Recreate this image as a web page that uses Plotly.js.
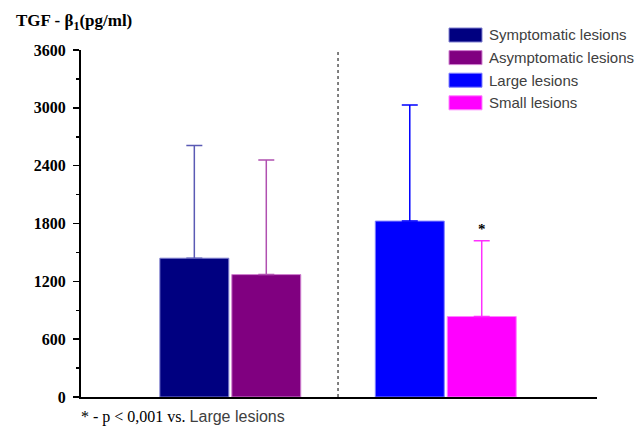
<!DOCTYPE html>
<html>
<head>
<meta charset="utf-8">
<script src="https://cdn.plot.ly/plotly-3.0.1.min.js"></script>
<style>html,body{margin:0;padding:0;background:#fff;}#chart{width:642px;height:426px;}</style>
</head>
<body>
<div id="chart"></div>
<script>
// ---- data ----
var groups = ["Clinical", "Size"];
var seriesNames = ["Symptomatic lesions", "Asymptomatic lesions", "Large lesions", "Small lesions"];
var seriesGroup = ["Clinical", "Clinical", "Size", "Size"];
var meanValues = [1440, 1270, 1825, 835];
var upperErrors = [1170, 1190, 1205, 785];
var yTickValues = [0, 600, 1200, 1800, 2400, 3000, 3600];
var starValue = 1745;

// ---- styles ----
var barColors = ["#000080", "#800080", "#0000ff", "#ff00ff"];
var lineColors = ["#8080d0", "#d080d0", "#8080ff", "#ff80ff"];
var errColors = ["#5a5ab4", "#b050b0", "#0000ff", "#ff30ff"];
var barWidth = 0.32;
var offsets = [-0.327, 0.007, -0.327, 0.007];

var traces = seriesNames.map(function (name, i) {
  return {
    type: "bar",
    name: name,
    x: [seriesGroup[i]],
    y: [meanValues[i]],
    width: barWidth,
    offset: offsets[i],
    marker: { color: barColors[i], line: { color: lineColors[i], width: 1 } },
    error_y: {
      type: "data", symmetric: false,
      array: [upperErrors[i]], arrayminus: [0],
      color: errColors[i], thickness: 1.5, width: 8
    },
    showlegend: false,
    hoverinfo: "skip"
  };
});

var plotTop = 50, plotBottom = 397, plotLeft = 81, plotRight = 597;
var H = plotBottom - plotTop, W = plotRight - plotLeft;
function px2py(p) { return (plotBottom - p) / H; }
function px2px(p) { return (p - plotLeft) / W; }

var shapes = [{
  type: "line", xref: "x", yref: "y",
  x0: 0.5, x1: 0.5, y0: 0, y1: 3600,
  line: { color: "#000", width: 1, dash: "3px,3px" }
}];
var annotations = [];

// custom legend
seriesNames.forEach(function (name, i) {
  var cy = 35 + 22.6 * i;
  shapes.push({
    type: "rect", xref: "paper", yref: "paper",
    x0: px2px(449), x1: px2px(482), y0: px2py(cy + 7), y1: px2py(cy - 7),
    fillcolor: barColors[i], line: { color: lineColors[i], width: 1 }
  });
  annotations.push({
    xref: "paper", yref: "paper", x: px2px(487), y: px2py(cy),
    xanchor: "left", yanchor: "middle", showarrow: false,
    text: name,
    font: { family: "Liberation Sans, Arial", size: 15, color: "#404040" }
  });
});

// title
annotations.push({
  xref: "paper", yref: "paper", x: px2px(14), y: px2py(22),
  xanchor: "left", yanchor: "middle", showarrow: false,
  text: "TGF - β<sub>1</sub>(pg/ml)",
  font: { family: "Liberation Serif, Times New Roman", size: 17, color: "#000", weight: "bold" }
});

// significance star
annotations.push({
  xref: "x", yref: "y", x: groups[1], xshift: (offsets[3] + barWidth / 2) * 215.45, y: starValue,
  xanchor: "center", yanchor: "middle", showarrow: false,
  text: "*",
  font: { family: "Liberation Serif, Times New Roman", size: 15, color: "#000", weight: "bold" }
});

// footnote
annotations.push({
  xref: "paper", yref: "paper", x: px2px(79), y: px2py(417),
  xanchor: "left", yanchor: "middle", showarrow: false,
  text: "* - p &lt; 0,001 vs. <span style='font-family:Liberation Sans, Arial;color:#404040'>Large lesions</span>",
  font: { family: "Liberation Serif, Times New Roman", size: 16, color: "#000" }
});

var layout = {
  width: 642, height: 426,
  margin: { l: plotLeft, r: 642 - plotRight, t: plotTop, b: 426 - plotBottom, pad: 0 },
  paper_bgcolor: "#fff", plot_bgcolor: "#fff",
  barmode: "overlay",
  showlegend: false,
  xaxis: {
    type: "category", categoryarray: groups, categoryorder: "array",
    range: [-0.693, 1.702],
    showticklabels: false, ticks: "", showgrid: false, zeroline: false,
    showline: true, linecolor: "#000", linewidth: 2, fixedrange: true
  },
  yaxis: {
    range: [0, 3600], tickvals: yTickValues, ticktext: yTickValues.map(String),
    ticks: "outside", ticklen: 6, tickwidth: 1.5, tickcolor: "#000",
    minor: { dtick: 300, ticks: "outside", ticklen: 3, tickwidth: 1.5, tickcolor: "#000", showgrid: false },
    showgrid: false, zeroline: false, showline: true, linecolor: "#000", linewidth: 2,
    tickfont: { family: "Liberation Serif, Times New Roman", size: 16, color: "#000", weight: "bold" },
    ticklabelstandoff: 4,
    fixedrange: true
  },
  shapes: shapes,
  annotations: annotations
};

Plotly.newPlot("chart", traces, layout, { staticPlot: true, displayModeBar: false });
</script>
</body>
</html>
